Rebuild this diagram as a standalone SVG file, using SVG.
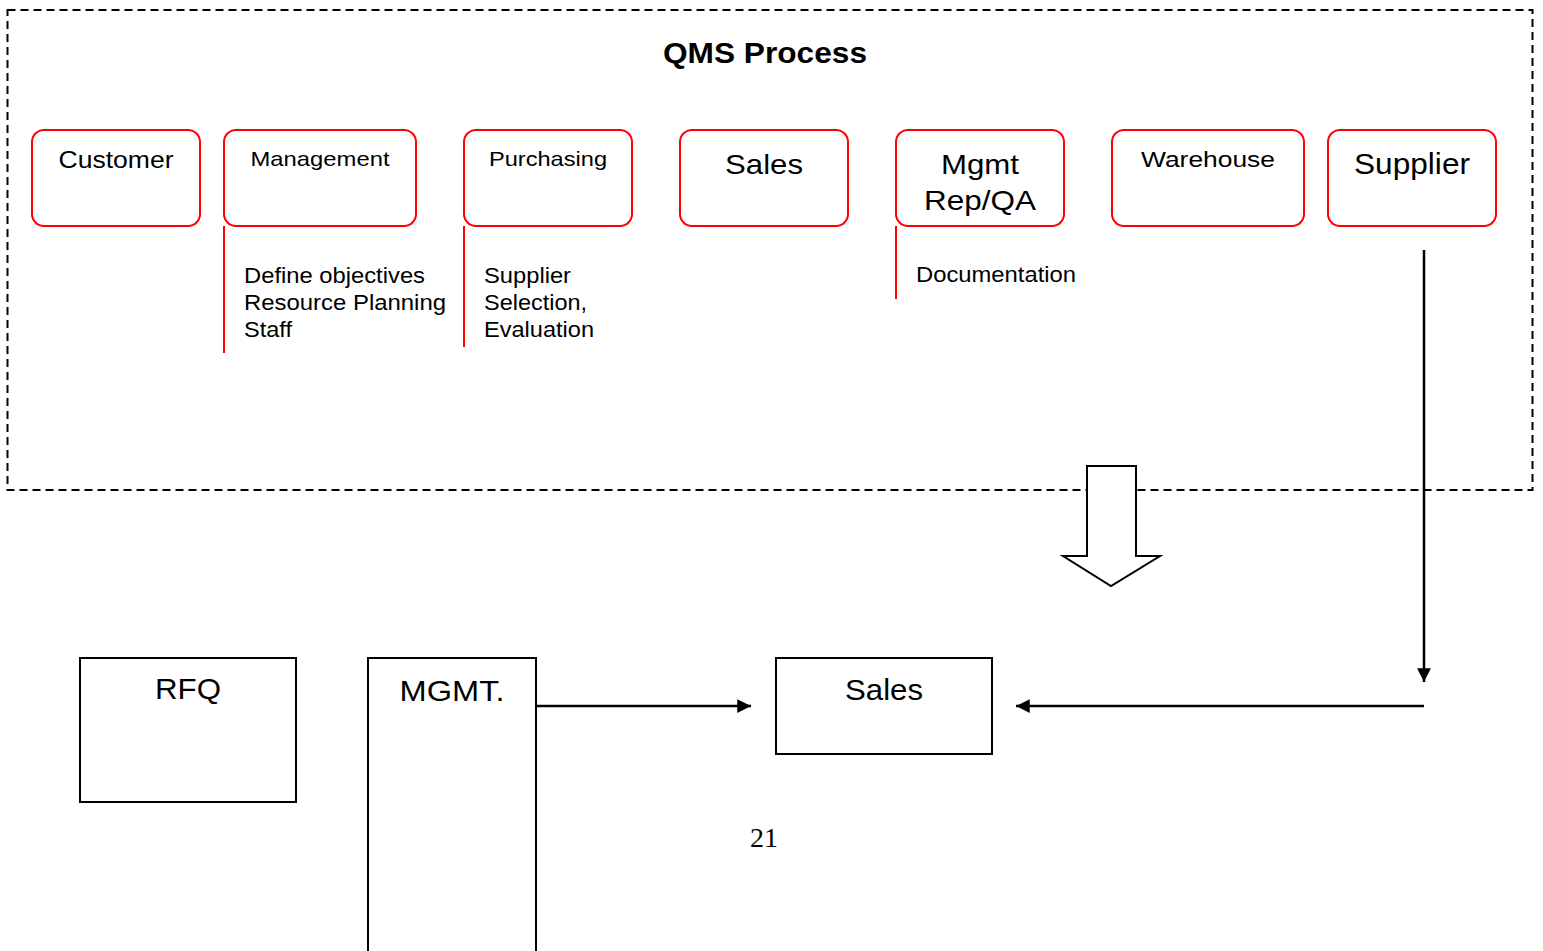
<svg xmlns="http://www.w3.org/2000/svg" width="1543" height="951" viewBox="0 0 1543 951">
<style>
text{font-family:"Liberation Sans",Arial,sans-serif;fill:#000}
.rb{fill:#fff;stroke:#ff0000;stroke-width:2}
.rl{stroke:#ff0000;stroke-width:2;fill:none}
.bb{fill:#fff;stroke:#000;stroke-width:2}
.ln{stroke:#000;stroke-width:2.5;fill:none}
.c{text-anchor:middle}
</style>
<defs>
<marker id="ah" viewBox="0 0 10 10" refX="10" refY="5" markerWidth="6" markerHeight="5.5" orient="auto" markerUnits="strokeWidth">
<path d="M0,0 L10,5 L0,10 z" fill="#000"/>
</marker>
</defs>
<rect x="0" y="0" width="1543" height="951" fill="#fff"/>
<g id="frame">
<rect x="7.5" y="10" width="1525" height="480" fill="none" stroke="#000" stroke-width="2" stroke-dasharray="8,5"/>
<text x="765" y="63" class="c" font-size="29" font-weight="bold" textLength="204" lengthAdjust="spacingAndGlyphs">QMS Process</text>
</g>
<g id="customer"><rect class="rb" x="32" y="130" width="168" height="96" rx="12"/><text x="116" y="168" class="c" font-size="23" textLength="115" lengthAdjust="spacingAndGlyphs">Customer</text></g>
<g id="management"><rect class="rb" x="224" y="130" width="192" height="96" rx="12"/><text x="320" y="166" class="c" font-size="21" textLength="139" lengthAdjust="spacingAndGlyphs">Management</text></g>
<g id="purchasing"><rect class="rb" x="464" y="130" width="168" height="96" rx="12"/><text x="548" y="166" class="c" font-size="21" textLength="118" lengthAdjust="spacingAndGlyphs">Purchasing</text></g>
<g id="sales-top"><rect class="rb" x="680" y="130" width="168" height="96" rx="12"/><text x="764" y="174" class="c" font-size="28" textLength="78" lengthAdjust="spacingAndGlyphs">Sales</text></g>
<g id="mgmtrep"><rect class="rb" x="896" y="130" width="168" height="96" rx="12"/><text x="980" y="174" class="c" font-size="28" textLength="78" lengthAdjust="spacingAndGlyphs">Mgmt</text><text x="980" y="210" class="c" font-size="28" textLength="112" lengthAdjust="spacingAndGlyphs">Rep/QA</text></g>
<g id="warehouse"><rect class="rb" x="1112" y="130" width="192" height="96" rx="12"/><text x="1208" y="167" class="c" font-size="22" textLength="134" lengthAdjust="spacingAndGlyphs">Warehouse</text></g>
<g id="supplier"><rect class="rb" x="1328" y="130" width="168" height="96" rx="12"/><text x="1412" y="174" class="c" font-size="29" textLength="116" lengthAdjust="spacingAndGlyphs">Supplier</text></g>
<g id="mgmt-notes"><line class="rl" x1="224" y1="226" x2="224" y2="353"/><text x="244" y="283" font-size="22" textLength="181" lengthAdjust="spacingAndGlyphs">Define objectives</text><text x="244" y="310" font-size="22" textLength="202" lengthAdjust="spacingAndGlyphs">Resource Planning</text><text x="244" y="337" font-size="22" textLength="48" lengthAdjust="spacingAndGlyphs">Staff</text></g>
<g id="purch-notes"><line class="rl" x1="464" y1="226" x2="464" y2="347"/><text x="484" y="283" font-size="22" textLength="87" lengthAdjust="spacingAndGlyphs">Supplier</text><text x="484" y="310" font-size="22" textLength="103" lengthAdjust="spacingAndGlyphs">Selection,</text><text x="484" y="337" font-size="22" textLength="110" lengthAdjust="spacingAndGlyphs">Evaluation</text></g>
<g id="doc-notes"><line class="rl" x1="896" y1="226" x2="896" y2="299"/><text x="916" y="282" font-size="22" textLength="160" lengthAdjust="spacingAndGlyphs">Documentation</text></g>
<g id="block-arrow"><path d="M1087,466 H1136 V556 H1160 L1111,586 L1063,556 H1087 Z" fill="#fff" stroke="#000" stroke-width="2"/></g>
<g id="rfq"><rect class="bb" x="80" y="658" width="216" height="144"/><text x="188" y="699" class="c" font-size="30" textLength="66" lengthAdjust="spacingAndGlyphs">RFQ</text></g>
<g id="mgmt-bottom"><rect class="bb" x="368" y="658" width="168" height="300"/><text x="452" y="701" class="c" font-size="30" textLength="105" lengthAdjust="spacingAndGlyphs">MGMT.</text></g>
<g id="sales-bottom"><rect class="bb" x="776" y="658" width="216" height="96"/><text x="884" y="700" class="c" font-size="30" textLength="78" lengthAdjust="spacingAndGlyphs">Sales</text></g>
<g id="connectors">
<line class="ln" x1="1424" y1="250" x2="1424" y2="682" marker-end="url(#ah)"/>
<line class="ln" x1="1424" y1="706" x2="1016" y2="706" marker-end="url(#ah)"/>
<line class="ln" x1="536" y1="706" x2="751" y2="706" marker-end="url(#ah)"/>
</g>
<text x="764" y="847" class="c" font-size="28" textLength="28" lengthAdjust="spacingAndGlyphs" style="font-family:'Liberation Serif','Times New Roman',serif">21</text>
</svg>
